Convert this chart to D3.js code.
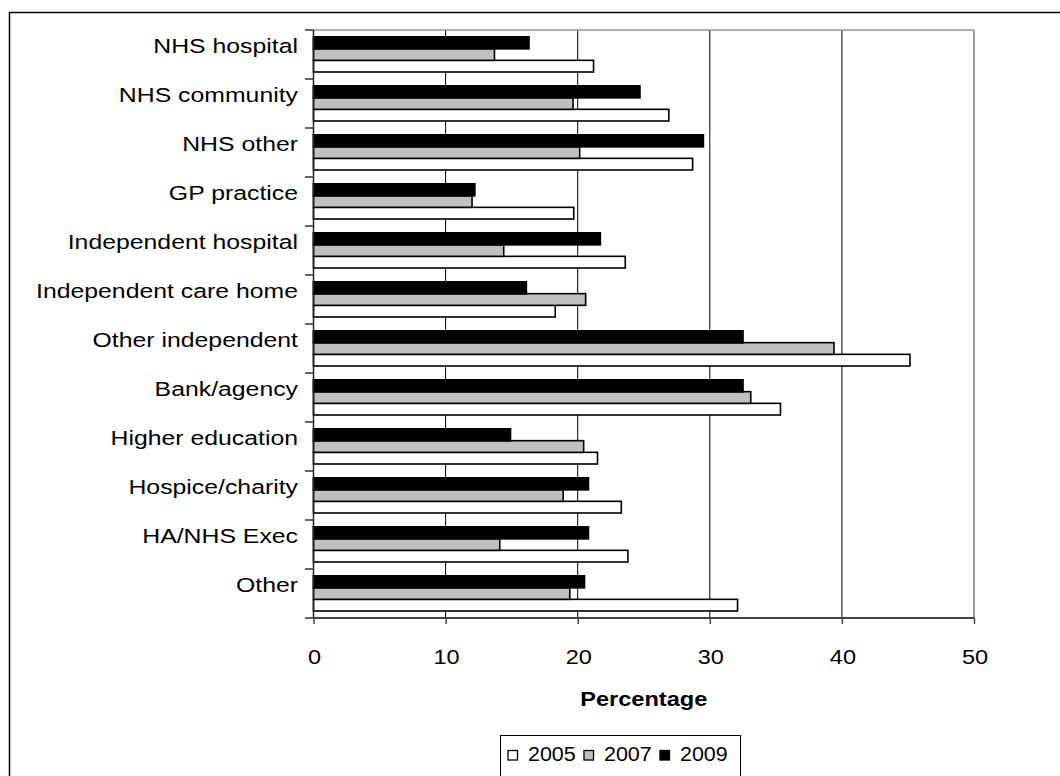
<!DOCTYPE html>
<html><head><meta charset="utf-8">
<script src="https://cdn.jsdelivr.net/npm/d3@7"></script>
<style>body{margin:0;background:#fff} svg{display:block} text{font-family:"Liberation Sans",Arial,sans-serif;fill:#000}</style>
</head><body><svg id="c" width="1060" height="776"></svg>
<script>
const categories = ["NHS hospital","NHS community","NHS other","GP practice","Independent hospital","Independent care home","Other independent","Bank/agency","Higher education","Hospice/charity","HA/NHS Exec","Other"];
const years = ["2005","2007","2009"];
const values2005 = [21.2,26.9,28.7,19.7,23.6,18.3,45.15,35.35,21.5,23.3,23.8,32.1];
const values2007 = [13.7,19.65,20.15,12.0,14.4,20.6,39.4,33.1,20.45,18.9,14.1,19.4];
const values2009 = [16.3,24.7,29.5,12.2,21.7,16.1,32.5,32.5,14.9,20.8,20.8,20.5];
const xTicks = [0,10,20,30,40,50];
const xLabel = "Percentage";

const series = [
  {year:"2005", values:values2005, fill:"#ffffff"},
  {year:"2007", values:values2007, fill:"#c0c0c0"},
  {year:"2009", values:values2009, fill:"#000000"}
];

const svg = d3.select("#c");
const L=313.5, R=974, T=30, B=618;
const x = d3.scaleLinear().domain([0,50]).range([L,R]);
const y = d3.scaleBand().domain(categories).range([T,B]);
const yi = d3.scaleBand().domain(["2009","2007","2005"]).range([0,y.bandwidth()]).paddingInner(0).paddingOuter(0.6);

// outer border
svg.append("rect").attr("x",9.5).attr("y",12.5).attr("width",1200).attr("height",1000)
  .attr("fill","none").attr("stroke","#000").attr("stroke-width",1.5);

// gridlines
const g = svg.append("g");
g.selectAll("line.grid").data(xTicks.filter(t=>t>0&&t<50)).join("line")
  .attr("x1",d=>x(d)).attr("x2",d=>x(d)).attr("y1",T).attr("y2",B)
  .attr("stroke","#000").attr("stroke-width",1);
// plot border top/right
g.append("line").attr("x1",L).attr("x2",R).attr("y1",T).attr("y2",T).attr("stroke","#999").attr("stroke-width",1.5);
g.append("line").attr("x1",R).attr("x2",R).attr("y1",T).attr("y2",B).attr("stroke","#999").attr("stroke-width",2);

// bars (2005, 2007 first, 2009 drawn last on top)
series.forEach(s=>{
  g.selectAll(null).data(categories).join("rect")
    .attr("x",x(0))
    .attr("y",(c)=>y(c)+yi(s.year))
    .attr("width",(c,i)=>x(s.values[i])-x(0))
    .attr("height",yi.bandwidth())
    .attr("fill",s.fill)
    .attr("stroke","#000")
    .attr("stroke-width",s.year==="2009"?2:1.6);
});

// axes
const xAxis = d3.axisBottom(x).tickValues(xTicks).tickSize(6).tickFormat("");
const xa = svg.append("g").attr("transform",`translate(0,${B})`).call(xAxis);
xa.select(".domain").attr("stroke","#444").attr("stroke-width",2).attr("d",`M${L},0H${R}`);
xa.selectAll(".tick line").attr("stroke","#444").attr("stroke-width",1.5);

const yAxis = d3.axisLeft(y).tickSize(0).tickFormat("");
const ya = svg.append("g").attr("transform",`translate(${L},0)`).call(yAxis);
ya.select(".domain").attr("stroke","#222").attr("stroke-width",1.5).attr("d",`M0,${T}V${B}`);
// category boundary ticks
const bounds = categories.map(c=>y(c)).concat([B]);
ya.selectAll("line.bt").data(bounds).join("line")
  .attr("x1",-8.5).attr("x2",0).attr("y1",d=>d).attr("y2",d=>d)
  .attr("stroke","#333").attr("stroke-width",1.5);

function stext(parent, txt, px, py, size, sx, anchor, weight){
  return parent.append("text").text(txt)
    .attr("transform",`translate(${px},${py}) scale(${sx},1)`)
    .attr("text-anchor",anchor).attr("font-size",size)
    .attr("font-weight",weight||"normal");
}

// category labels
categories.forEach(c=>{
  stext(svg, c, 298, y(c)+y.bandwidth()/2-1.5, 20.5, 1.21, "end");
});
// tick labels
xTicks.forEach(t=>{
  stext(svg, String(t), x(t)+1, 664, 21, 1.12, "middle");
});
stext(svg, xLabel, (L+R)/2, 706, 20, 1.18, "middle", "bold");

// legend
const lg = svg.append("g");
lg.append("rect").attr("x",500.5).attr("y",735.5).attr("width",240).attr("height",80)
  .attr("fill","#fff").attr("stroke","#000").attr("stroke-width",1);
series.forEach((s,i)=>{
  const lx = 508 + i*76;
  lg.append("rect").attr("x",lx).attr("y",750.5).attr("width",9.5).attr("height",9.5)
    .attr("fill",s.fill).attr("stroke","#000").attr("stroke-width",1.3);
  stext(lg, s.year, lx+20, 761, 19.5, 1.1, "start");
});
</script></body></html>
